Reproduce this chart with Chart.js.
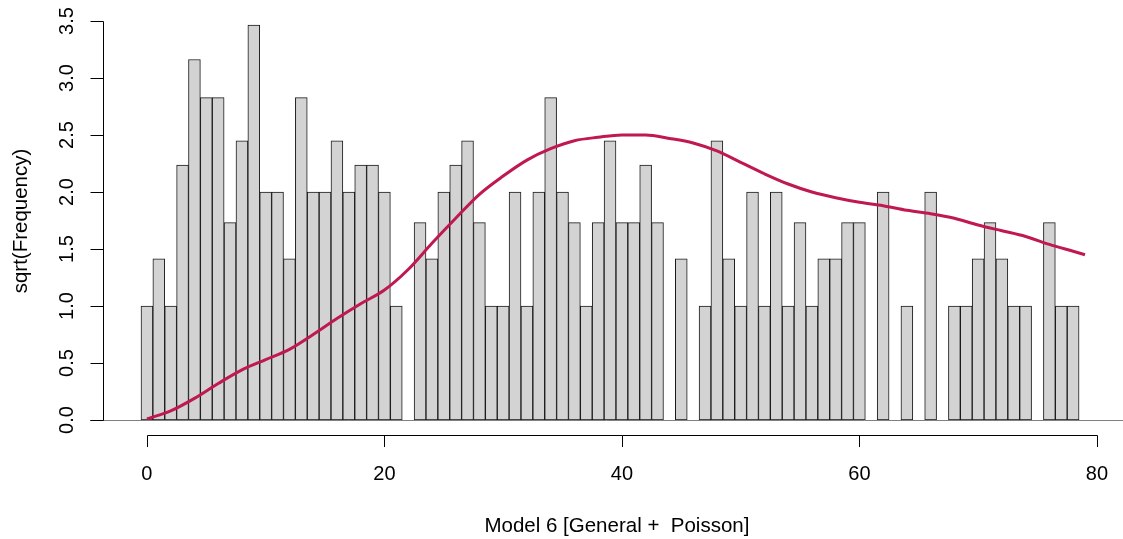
<!DOCTYPE html>
<html lang="en">
<head>
  <meta charset="UTF-8">
  <title>Model 6 rootogram</title>
  <script src="https://cdn.jsdelivr.net/npm/chart.js"></script>
  <style>
    body { margin: 0; background: #fff; }
  </style>
</head>
<body>
  <canvas id="rootChart" width="1123" height="539"></canvas>
  <script>
    // observed counts per value 0..78
    const bins = Array.from({ length: 79 }, (_, i) => i)
    const counts = [
      1, 2, 1, 5, 10, 8, 8, 3, 6, 12,
      4, 4, 2, 8, 4, 4, 6, 4, 5, 5,
      4, 1, 0, 3, 2, 4, 5, 6, 3, 1,
      1, 4, 1, 4, 8, 4, 3, 1, 3, 6,
      3, 3, 5, 3, 0, 2, 0, 1, 6, 2,
      1, 4, 1, 4, 1, 3, 1, 2, 2, 3,
      3, 0, 4, 0, 1, 0, 4, 0, 1, 1,
      2, 3, 2, 1, 1, 0, 3, 1, 1
    ]
    // fitted curve (sqrt scale)
    const fitX = [0, 2, 4, 6, 8, 10, 12, 14, 16, 18, 20, 22, 24, 26, 28, 30, 32, 34, 36, 38,
      40, 42, 44, 46, 48, 50, 52, 54, 56, 58, 60, 62, 64, 66, 68, 70, 72, 74, 76, 78, 79]
    const fitY = [0.01, 0.08, 0.19, 0.32, 0.44, 0.53, 0.62, 0.75, 0.89, 1.02, 1.14, 1.32, 1.55, 1.77, 1.98, 2.14, 2.28, 2.38, 2.45, 2.48,
      2.50, 2.50, 2.47, 2.43, 2.36, 2.26, 2.16, 2.07, 2.00, 1.95, 1.91, 1.88, 1.84, 1.81, 1.77, 1.71, 1.66, 1.61, 1.54, 1.48, 1.45]
    const xTicks = [0, 20, 40, 60, 80]
    const yTicks = [0, 0.5, 1, 1.5, 2, 2.5, 3, 3.5]

    const FONT = '20px "Liberation Sans", Arial, sans-serif'
    const TITLE_FONT = '20.5px "Liberation Sans", Arial, sans-serif'

    // R-style axes drawn by hand off the chart's scales
    const baseAxes = {
      id: 'baseAxes',
      afterDraw(chart) {
        const { ctx, scales: { x, y } } = chart
        ctx.save()
        ctx.lineWidth = 1

        // zero line under the bars
        const y0 = Math.round(y.getPixelForValue(0)) + 0.5
        ctx.strokeStyle = '#808080'
        ctx.beginPath()
        ctx.moveTo(90, y0)
        ctx.lineTo(chart.width, y0)
        ctx.stroke()

        ctx.strokeStyle = '#000'
        ctx.fillStyle = '#000'
        ctx.font = FONT

        // y axis
        const ax = 103.5
        ctx.beginPath()
        ctx.moveTo(ax, Math.round(y.getPixelForValue(yTicks[0])) + 0.5)
        ctx.lineTo(ax, Math.round(y.getPixelForValue(yTicks[yTicks.length - 1])) + 0.5)
        yTicks.forEach(v => {
          const py = Math.round(y.getPixelForValue(v)) + 0.5
          ctx.moveTo(ax, py)
          ctx.lineTo(90.5, py)
        })
        ctx.stroke()
        ctx.textAlign = 'center'
        ctx.textBaseline = 'middle'
        yTicks.forEach(v => {
          ctx.save()
          ctx.translate(67, y.getPixelForValue(v))
          ctx.rotate(-Math.PI / 2)
          ctx.fillText(v.toFixed(1), 0, 0)
          ctx.restore()
        })

        // x axis
        const ay = 435.5
        ctx.beginPath()
        ctx.moveTo(Math.round(x.getPixelForValue(xTicks[0])) + 0.5, ay)
        ctx.lineTo(Math.round(x.getPixelForValue(xTicks[xTicks.length - 1])) + 0.5, ay)
        xTicks.forEach(v => {
          const px = Math.round(x.getPixelForValue(v)) + 0.5
          ctx.moveTo(px, ay)
          ctx.lineTo(px, 447)
        })
        ctx.stroke()
        xTicks.forEach(v => {
          ctx.fillText(String(v), x.getPixelForValue(v), 474)
        })

        // titles
        ctx.font = TITLE_FONT
        ctx.fillText('Model 6 [General +  Poisson]', x.getPixelForValue(40) - 5, 526)
        ctx.save()
        ctx.translate(21, 221)
        ctx.rotate(-Math.PI / 2)
        ctx.fillText('sqrt(Frequency)', 0, 0)
        ctx.restore()

        ctx.restore()
      }
    }

    const barData = bins
      .map((b, i) => ({ x: b, y: Math.sqrt(counts[i]) }))
      .filter(p => p.y > 0)

    new Chart(document.getElementById('rootChart'), {
      type: 'bar',
      data: {
        datasets: [
          {
            type: 'line',
            data: fitX.map((v, i) => ({ x: v, y: fitY[i] })),
            borderColor: 'rgb(192, 24, 82)',
            borderWidth: 3,
            pointRadius: 0,
            cubicInterpolationMode: 'monotone',
            order: 1,
          },
          {
            type: 'bar',
            data: barData,
            backgroundColor: '#d3d3d3',
            borderColor: '#1a1a1a',
            borderWidth: 1,
            borderSkipped: false,
            barPercentage: 1,
            categoryPercentage: 1,
            order: 2,
          }
        ]
      },
      options: {
        responsive: false,
        devicePixelRatio: 1,
        animation: false,
        layout: { padding: { left: 103, top: 21, right: 0, bottom: 119 } },
        plugins: {
          legend: { display: false },
          tooltip: { enabled: false },
        },
        scales: {
          x: { type: 'linear', min: -3.7, max: 82.2, offset: false, display: false },
          y: { min: 0, max: 3.5, display: false },
        }
      },
      plugins: [baseAxes]
    })
  </script>
</body>
</html>
